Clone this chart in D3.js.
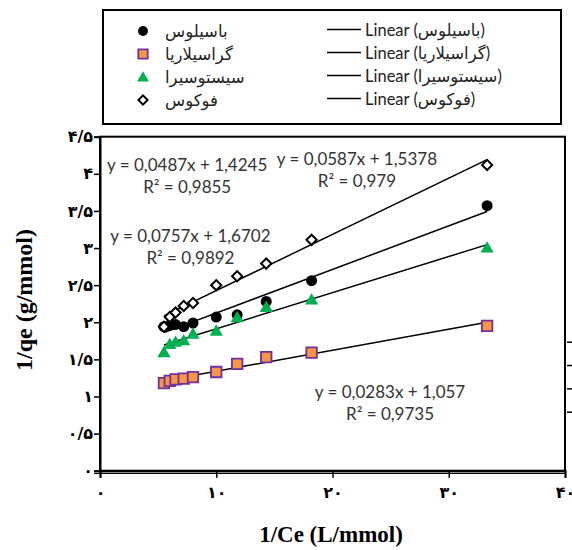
<!DOCTYPE html>
<html>
<head>
<meta charset="utf-8">
<title>Langmuir plots</title>
<style>
  body { margin: 0; background: #fff; }
  svg { display: block; background: #fff; }
  .eq { font-family: Lato, 'Open Sans', sans-serif; font-size: 17px; fill: #333; }
  .leg { font-family: Lato, 'DejaVu Sans', sans-serif; font-size: 16.5px; fill: #222; }
  .tick-fa { font-family: 'DejaVu Sans', sans-serif; font-weight: bold; font-size: 16px; fill: #000; }
  .title { font-family: 'Liberation Serif', 'Times New Roman', serif; font-weight: bold; fill: #000; }
</style>
</head>
<body>
<div id="chart"></div>
<script src="https://cdnjs.cloudflare.com/ajax/libs/d3/7.8.5/d3.min.js"></script>
<script>
// data
const xVals      = [5.5, 6.0, 6.5, 7.2, 8.0, 10.0, 11.8, 14.3, 18.2, 33.3];
const bacillus   = [1.94, 1.96, 1.97, 1.94, 1.99, 2.07, 2.10, 2.28, 2.56, 3.57];
const gracilaria = [1.18, 1.21, 1.23, 1.24, 1.26, 1.33, 1.44, 1.53, 1.59, 1.95];
const cystoseira = [1.58, 1.69, 1.72, 1.74, 1.83, 1.87, 2.05, 2.19, 2.29, 2.99];
const fucus      = [1.94, 2.07, 2.13, 2.22, 2.26, 2.50, 2.62, 2.79, 3.11, 4.12];

const names      = ['باسیلوس', 'گراسیلاریا', 'سیستوسیرا', 'فوکوس'];
const slopes     = [0.0587, 0.0283, 0.0487, 0.0757];
const intercepts = [1.5378, 1.057, 1.4245, 1.6702];
const r2         = ['0,979', '0,9735', '0,9855', '0,9892'];
const eqIntercepts = ['1,5378', '1,057', '1,4245', '1,6702'];

const xTicks = [0, 10, 20, 30, 40];
const yTicks = [0, 0.5, 1, 1.5, 2, 2.5, 3, 3.5, 4, 4.5];

const W = 572, H = 550;
const svg = d3.select('#chart').append('svg').attr('width', W).attr('height', H);

const x = d3.scaleLinear().domain([0, 40]).range([100, 565]);
const y = d3.scaleLinear().domain([0, 4.5]).range([470.7, 136.7]);

const toFa = v => String(v).replace('.', '/').replace(/\d/g, d => '۰۱۲۳۴۵۶۷۸۹'[d]);

// marker styles per series
const styles = [
  { sym: d3.symbolCircle,   size: 95,  fill: '#000',     stroke: 'none',    sw: 0,   rot: 0 },
  { sym: d3.symbolSquare,   size: 110, fill: '#f79646',  stroke: '#7030a0', sw: 1.8, rot: 0 },
  { sym: d3.symbolTriangle, size: 75,  fill: '#00b050',  stroke: 'none',    sw: 0,   rot: 0 },
  { sym: d3.symbolSquare,   size: 52,  fill: '#fff',     stroke: '#000',    sw: 2,   rot: 45 }
];
const seriesVals = [bacillus, gracilaria, cystoseira, fucus];

// plot frame
svg.append('rect')
  .attr('x', x(0)).attr('y', y(4.5))
  .attr('width', x(40) - x(0)).attr('height', y(0) - y(4.5))
  .attr('fill', 'none').attr('stroke', '#000').attr('stroke-width', 2);

// trendlines
seriesVals.forEach((vals, i) => {
  const x0 = xVals[0], x1 = xVals[xVals.length - 1];
  svg.append('line')
    .attr('x1', x(x0)).attr('y1', y(slopes[i] * x0 + intercepts[i]))
    .attr('x2', x(x1)).attr('y2', y(slopes[i] * x1 + intercepts[i]))
    .attr('stroke', '#000').attr('stroke-width', 1.5);
});

// markers
seriesVals.forEach((vals, i) => {
  const s = styles[i];
  svg.append('g').selectAll('path')
    .data(vals.map((v, j) => [xVals[j], v]))
    .join('path')
    .attr('d', d3.symbol().type(s.sym).size(s.size))
    .attr('transform', d => `translate(${x(d[0])},${y(d[1])}) rotate(${s.rot})`)
    .attr('fill', s.fill).attr('stroke', s.stroke).attr('stroke-width', s.sw);
});

// axes
const yAxis = svg.append('g')
  .attr('transform', `translate(${x(0)},0)`)
  .call(d3.axisLeft(y).tickValues(yTicks).tickSize(6).tickFormat(toFa));
const xAxis = svg.append('g')
  .attr('transform', `translate(0,${y(0)})`)
  .call(d3.axisBottom(x).tickValues(xTicks).tickSize(7).tickFormat(toFa));
[yAxis, xAxis].forEach(a => {
  a.select('.domain').attr('stroke', '#000').attr('stroke-width', 2);
  a.selectAll('.tick line').attr('stroke', '#000').attr('stroke-width', 1.5);
  a.selectAll('.tick text').attr('class', 'tick-fa').attr('font-family', null).attr('font-size', null);
});
yAxis.selectAll('.tick text').attr('x', -7);
xAxis.selectAll('.tick text').attr('y', 16);
// second line under the x axis
svg.append('line')
  .attr('x1', x(0) - 6).attr('x2', x(40))
  .attr('y1', y(0) + 2.6).attr('y2', y(0) + 2.6)
  .attr('stroke', '#000').attr('stroke-width', 1.2);

// stray small ticks at the right edge
const rScale = d3.scaleLinear().domain([0, 3]).range([411.7, 341.7]);
const rAxis = svg.append('g')
  .attr('transform', `translate(${x(40) + 2},0)`)
  .call(d3.axisRight(rScale).ticks(3).tickSize(5).tickFormat(''));
rAxis.select('.domain').remove();
rAxis.selectAll('.tick line').attr('stroke', '#000').attr('stroke-width', 1.5);

// axis titles
svg.append('text').attr('class', 'title')
  .attr('x', 331).attr('y', 542)
  .attr('text-anchor', 'middle').attr('font-size', 23)
  .text('1/Ce (L/mmol)');
svg.append('text').attr('class', 'title')
  .attr('transform', 'translate(32,300) rotate(-90)')
  .attr('text-anchor', 'middle').attr('font-size', 24)
  .text('1/qe (g/mmol)');

// equation labels: centre in data units
const eqPos = [
  { cx: 22.1, cy: 4.20 },
  { cx: 24.95, cy: 1.064 },
  { cx: 7.5, cy: 4.13 },
  { cx: 7.78, cy: 3.175 }
];
eqPos.forEach((p, i) => {
  const g = svg.append('g').attr('class', 'eq');
  g.append('text')
    .attr('x', x(p.cx)).attr('y', y(p.cy))
    .attr('text-anchor', 'middle').attr('dominant-baseline', 'central')
    .text(`y = ${String(slopes[i]).replace('.', ',')}x + ${eqIntercepts[i]}`);
  g.append('text')
    .attr('x', x(p.cx)).attr('y', y(p.cy) + 22)
    .attr('text-anchor', 'middle').attr('dominant-baseline', 'central')
    .text(`R² = ${r2[i]}`);
});

// legend
svg.append('rect')
  .attr('x', 103).attr('y', 10).attr('width', 458).attr('height', 114)
  .attr('fill', '#fff').attr('stroke', '#000').attr('stroke-width', 2);

const legRows = [31, 54, 77, 100];
names.forEach((n, i) => {
  const s = styles[i];
  const sc = 0.8;
  svg.append('path')
    .attr('d', d3.symbol().type(s.sym).size(s.size * sc))
    .attr('transform', `translate(143,${legRows[i] + (i === 2 ? 1 : 0)}) rotate(${s.rot})`)
    .attr('fill', s.fill).attr('stroke', s.stroke).attr('stroke-width', s.sw);
  svg.append('text').attr('class', 'leg')
    .attr('x', 165).attr('y', legRows[i])
    .attr('dominant-baseline', 'central')
    .text(n);
  svg.append('line')
    .attr('x1', 327).attr('x2', 361)
    .attr('y1', legRows[i] - 1.5).attr('y2', legRows[i] - 1.5)
    .attr('stroke', '#000').attr('stroke-width', 1.5);
  svg.append('text').attr('class', 'leg')
    .attr('x', 365).attr('y', legRows[i] - 1.5)
    .attr('dominant-baseline', 'central')
    .text(`Linear (${n})`);
});
</script>
</body>
</html>
